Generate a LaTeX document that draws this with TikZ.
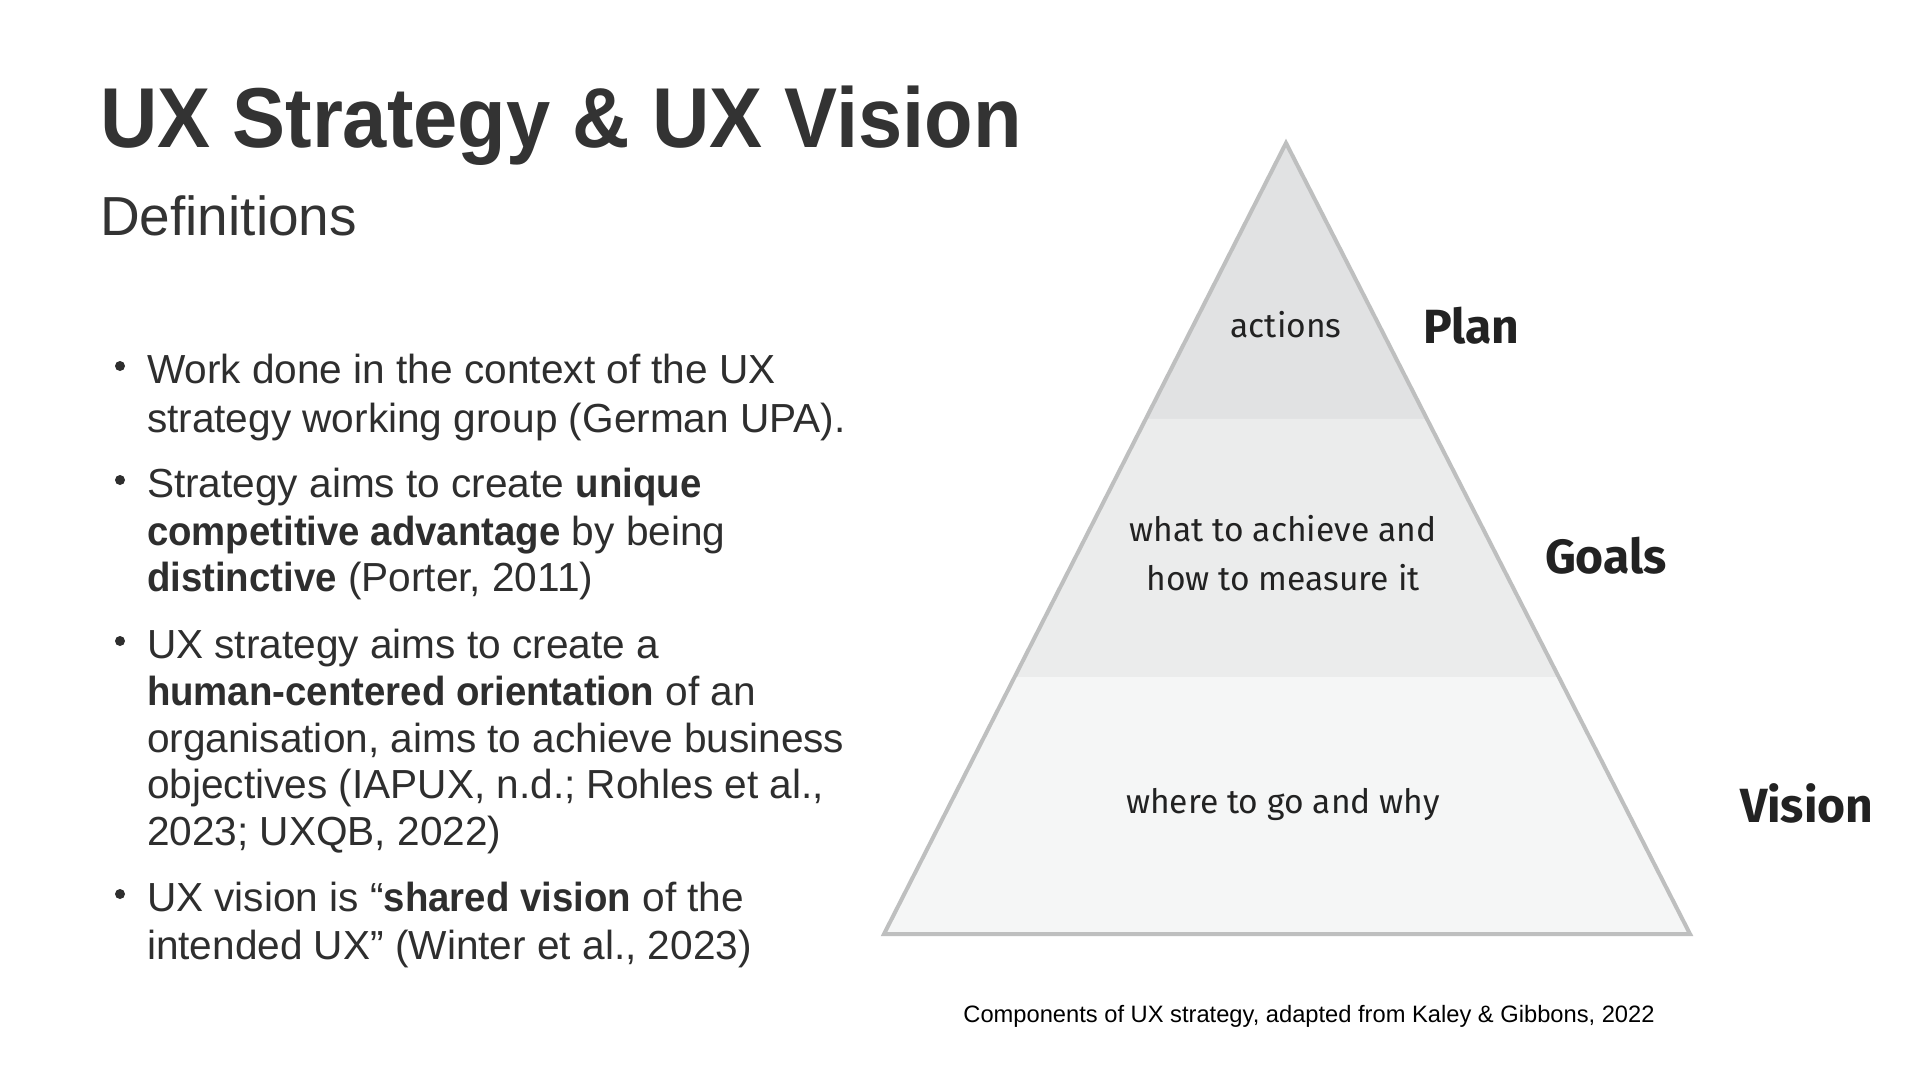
\documentclass[tikz,border=0pt]{standalone}
\usepackage{fontspec}
\setmainfont[BoldFeatures={FakeStretch=0.945}]{Liberation Sans}
\newfontfamily\captionfont{Liberation Sans}
\newfontfamily\titlefont[FakeStretch=0.935]{Liberation Sans}
\newfontfamily\pyrfont{Fira Sans}
\usetikzlibrary{calc}
\definecolor{txt}{HTML}{2E2E2E}
\definecolor{titlecol}{HTML}{333333}
\definecolor{edgecol}{HTML}{BEBFBF}
\definecolor{bandA}{HTML}{E1E2E3}
\definecolor{bandB}{HTML}{EBECEC}
\definecolor{bandC}{HTML}{F5F6F6}
\definecolor{pyrtxt}{HTML}{222222}
\begin{document}
\begin{tikzpicture}[x=1pt,y=-1pt,
  bodyline/.style={anchor=base west, inner sep=0pt, outer sep=0pt, text=txt, font=\fontsize{40.6}{47}\selectfont},
  bulletmark/.style={circle, fill=txt, inner sep=0pt, outer sep=0pt, minimum size=10pt},
  pyrtext/.style={anchor=base, inner sep=0pt, outer sep=0pt, text=pyrtxt, font=\pyrfont\fontsize{33.6}{40}\selectfont},
  pyrlabel/.style={anchor=base west, inner sep=0pt, outer sep=0pt, text=pyrtxt, font=\pyrfont\bfseries\fontsize{48}{56}\selectfont}]
\useasboundingbox (0,0) rectangle (1920,1080);
\fill[white] (0,0) rectangle (1920,1080);

% title
\node[anchor=base west, inner sep=0pt, text=titlecol, font=\titlefont\bfseries\fontsize{85}{100}\selectfont] (title) at (100,147) {UX Strategy \& UX Vision};
\node[anchor=base west, inner sep=0pt, text=titlecol, font=\fontsize{55}{64}\selectfont] (subtitle) at (100,235) {Definitions};

% bullets
\node[bulletmark] (b1) at (120,366) {};
\node[bodyline] (l1a) at (147,383) {Work done in the context of the UX};
\node[bodyline] (l1b) at (147,432) {strategy working group (German UPA).};

\node[bulletmark] (b2) at (120,480) {};
\node[bodyline] (l2a) at (147,497) {Strategy aims to create \textbf{unique}};
\node[bodyline] (l2b) at (147,545) {\textbf{competitive advantage} by being};
\node[bodyline] (l2c) at (147,591) {\textbf{distinctive} (Porter, 2011)};

\node[bulletmark] (b3) at (120,641) {};
\node[bodyline] (l3a) at (147,658) {UX strategy aims to create a};
\node[bodyline] (l3b) at (147,705) {\textbf{human-centered orientation} of an};
\node[bodyline] (l3c) at (147,752) {organisation, aims to achieve business};
\node[bodyline] (l3d) at (147,798) {objectives (IAPUX, n.d.; Rohles et al.,};
\node[bodyline] (l3e) at (147,845) {2023; UXQB, 2022)};

\node[bulletmark] (b4) at (120,894) {};
\node[bodyline] (l4a) at (147,911) {UX vision is “\textbf{shared vision} of the};
\node[bodyline] (l4b) at (147,959) {intended UX” (Winter et al., 2023)};

% pyramid
\coordinate (apex) at (1286,143);
\coordinate (bl) at (884,934);
\coordinate (br) at (1690,934);
\coordinate (l1) at ($(apex)!0.3489!(bl)$);
\coordinate (r1) at ($(apex)!0.3489!(br)$);
\coordinate (l2) at ($(apex)!0.6751!(bl)$);
\coordinate (r2) at ($(apex)!0.6751!(br)$);
\fill[bandA] (apex) -- (r1) -- (l1) -- cycle;
\fill[bandB] (l1) -- (r1) -- (r2) -- (l2) -- cycle;
\fill[bandC] (l2) -- (r2) -- (br) -- (bl) -- cycle;
\draw[edgecol, line width=4pt, line join=miter] (apex) -- (br) -- (bl) -- cycle;

\node[pyrtext] (actions) at (1286,337) {actions};
\node[pyrtext] (goalsA) at (1283,541) {what to achieve and};
\node[pyrtext] (goalsB) at (1283,590) {how to measure it};
\node[pyrtext] (visiontxt) at (1283,813) {where to go and why};

\node[pyrlabel] (plan) at (1423,343) {Plan};
\node[pyrlabel] (goals) at (1545,573) {Goals};
\node[pyrlabel] (vision) at (1740,822) {Vision};

\node[anchor=base, inner sep=0pt, text=black, font=\captionfont\fontsize{23.7}{28}\selectfont] (caption) at (1309,1022) {Components of UX strategy, adapted from Kaley \& Gibbons, 2022};
\end{tikzpicture}
\end{document}
